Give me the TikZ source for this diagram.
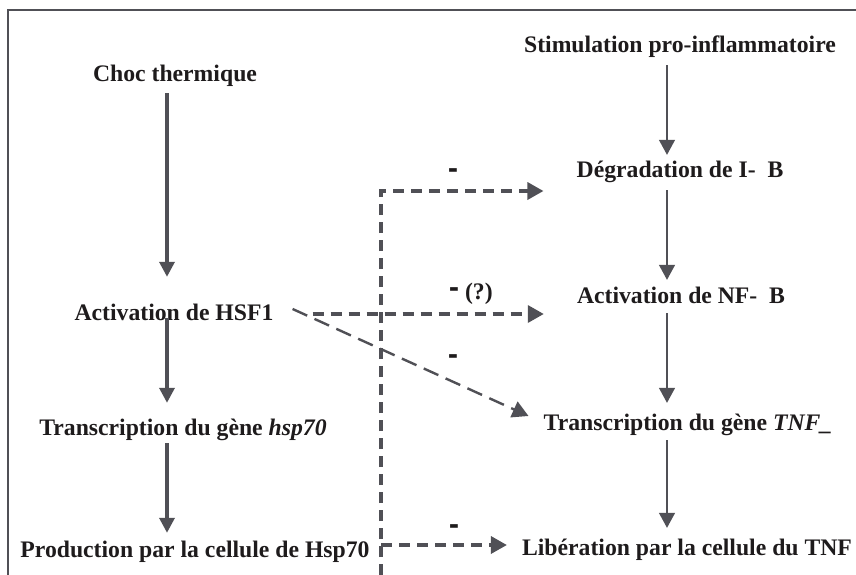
\documentclass[tikz,border=0pt]{standalone}
\usepackage{fontspec}
\usepackage{graphicx}
\setmainfont{Liberation Serif}
\usetikzlibrary{arrows.meta,positioning}

\definecolor{inkgray}{RGB}{30,27,28}
\definecolor{arrowgray}{RGB}{80,80,86}

\newcommand{\inhib}{\scalebox{1.25}[1.8]{-}}

\tikzset{
  lbl/.style={font=\fontsize{23.7}{28}\selectfont\bfseries, text=inkgray,
    text height=17pt, text depth=5pt, inner sep=0pt, anchor=base},
  signlbl/.style={lbl},
  fatarrow/.style={draw=arrowgray, line width=3.4pt,
    -{Triangle[length=15pt,width=15pt]}},
  thinarrow/.style={draw=arrowgray, line width=1.3pt,
    -{Triangle[length=15pt,width=16pt]}},
  dasharrow/.style={draw=arrowgray, line width=3.4pt, dash pattern=on 11pt off 7pt,
    -{Triangle[length=16pt,width=17pt]}},
  slantarrow/.style={draw=arrowgray, line width=2.4pt, dash pattern=on 16pt off 8pt,
    -{Triangle[length=16pt,width=17pt]}},
}

\begin{document}
\begin{tikzpicture}[x=1pt,y=-1pt]
  \useasboundingbox (0,0) rectangle (856,575);
  \fill[white] (0,0) rectangle (856,575);
  % frame
  \draw[arrowgray, line width=1.5pt] (8,575) -- (8,10) -- (856,10);

  % Define nodes: heat shock column
  \node[lbl] (choc) at (175,82) {Choc thermique};
  \node[lbl] (hsf)  at (174,320) {Activation de HSF1};
  \node[lbl] (hsp)  at (183,435) {Transcription du gène \textit{hsp70}};
  \node[lbl] (prod) at (195,557) {Production par la cellule de Hsp70};

  % Define nodes: inflammatory column
  \node[lbl] (stim) at (680,53) {Stimulation pro-inflammatoire};
  \node[lbl] (deg)  at (680,177) {Dégradation de I-\ \ B};
  \node[lbl] (nfkb) at (681,303) {Activation de NF-\ \ B};
  \node[lbl] (tnf)  at (688,430) {Transcription du gène \textit{TNF\_}};
  \node[lbl] (lib)  at (687,555) {Libération par la cellule du TNF};

  % Inhibition signs
  \node[signlbl] (s1) at (453,180) {\inhib};
  \node[signlbl] (s2) at (471,299) {\inhib\ (?)};
  \node[signlbl] (s3) at (453,366) {\inhib};
  \node[signlbl] (s4) at (454,536) {\inhib};

  \coordinate (colL) at (167,0);
  \coordinate (colR) at (667,0);
  \coordinate (busbot) at (381,575);
  \coordinate (bustop) at (381,191);
  \coordinate (busmid) at (381,545);

  % Solid edges
  \draw[fatarrow, shorten <=6pt, shorten >=26pt] (choc.south -| colL) -- (hsf.north -| colL);
  \draw[fatarrow, shorten <=-7pt, shorten >=15pt] (hsf.south -| colL) -- (hsp.north -| colL);
  \draw[fatarrow, shorten <=3pt, shorten >=7pt] (hsp.south -| colL) -- (prod.north -| colL);
  \draw[thinarrow, shorten <=7pt, shorten >=5pt] (stim.south -| colR) -- (deg.north -| colR);
  \draw[thinarrow, shorten <=8pt, shorten >=6pt] (deg.south -| colR) -- (nfkb.north -| colR);
  \draw[thinarrow, shorten <=5pt, shorten >=10pt] (nfkb.south -| colR) -- (tnf.north -| colR);
  \draw[thinarrow, shorten <=5pt, shorten >=10pt] (tnf.south -| colR) -- (lib.north -| colR);

  % Dashed edges (inhibitions)
  \draw[dasharrow] (busbot) -- (bustop) -- ([xshift=-33pt]deg.west |- bustop);
  \draw[dasharrow] (busmid) -- ([xshift=-15pt]lib.west |- busmid);
  \draw[dasharrow] ([xshift=39pt]hsf.east) -- ([xshift=-33pt]nfkb.west |- hsf.east);
  \draw[slantarrow] ([xshift=19pt,yshift=5pt]hsf.east) -- ([xshift=-15pt,yshift=8pt]tnf.west);
\end{tikzpicture}
\end{document}
